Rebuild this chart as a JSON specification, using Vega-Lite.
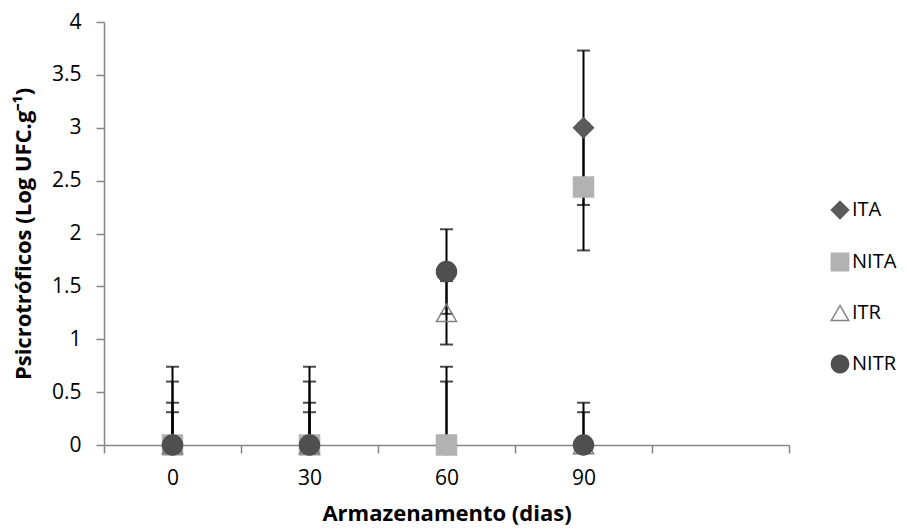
{
  "$schema": "https://vega.github.io/schema/vega-lite/v6.json",
  "width": 685,
  "height": 423,
  "autosize": "none",
  "padding": {"left": 104, "top": 22, "right": 118, "bottom": 85},
  "background": "white",
  "config": {
    "view": {"stroke": null},
    "font": "Open Sans",
    "axis": {"grid": false, "domainColor": "#868686", "domainWidth": 1.5, "tickColor": "#868686", "tickWidth": 1.5, "labelColor": "#000000", "labelFont": "Open Sans", "labelFontSize": 21, "titleFont": "Open Sans", "titleFontSize": 22, "titleFontWeight": "bold", "titleColor": "#000000"}
  },
  "data": {
    "values": [
      {"dia": 0, "serie": "ITA", "valor": 0, "lo": -0.74, "hi": 0.74},
      {"dia": 0, "serie": "NITA", "valor": 0, "lo": -0.6, "hi": 0.6},
      {"dia": 0, "serie": "ITR", "valor": 0, "lo": -0.31, "hi": 0.31},
      {"dia": 0, "serie": "NITR", "valor": 0, "lo": -0.4, "hi": 0.4},
      {"dia": 30, "serie": "ITA", "valor": 0, "lo": -0.74, "hi": 0.74},
      {"dia": 30, "serie": "NITA", "valor": 0, "lo": -0.6, "hi": 0.6},
      {"dia": 30, "serie": "ITR", "valor": 0, "lo": -0.31, "hi": 0.31},
      {"dia": 30, "serie": "NITR", "valor": 0, "lo": -0.4, "hi": 0.4},
      {"dia": 60, "serie": "ITA", "valor": 0, "lo": -0.74, "hi": 0.74},
      {"dia": 60, "serie": "NITA", "valor": 0, "lo": -0.6, "hi": 0.6},
      {"dia": 60, "serie": "ITR", "valor": 1.25, "lo": 0.95, "hi": 1.55},
      {"dia": 60, "serie": "NITR", "valor": 1.64, "lo": 1.24, "hi": 2.04},
      {"dia": 90, "serie": "ITA", "valor": 3.0, "lo": 2.27, "hi": 3.73},
      {"dia": 90, "serie": "NITA", "valor": 2.44, "lo": 1.84, "hi": 3.04},
      {"dia": 90, "serie": "ITR", "valor": 0, "lo": -0.31, "hi": 0.31},
      {"dia": 90, "serie": "NITR", "valor": 0, "lo": -0.4, "hi": 0.4}
    ]
  },
  "encoding": {
    "x": {
      "field": "dia", "type": "quantitative",
      "scale": {"domain": [-15, 135], "nice": false, "zero": false},
      "axis": {
        "title": "Armazenamento (dias)",
        "values": [-15, 0, 15, 30, 45, 60, 75, 90, 105, 135],
        "labelExpr": "datum.value % 30 == 0 && datum.value >= 0 && datum.value <= 90 ? datum.label : ''",
        "tickSize": 8,
        "tickOpacity": {"condition": {"test": "datum.value % 30 == 0", "value": 0}, "value": 1},
        "labelPadding": 14,
        "labelFlush": false,
        "labelOverlap": false,
        "titlePadding": 15
      }
    },
    "y": {
      "type": "quantitative",
      "scale": {"domain": [0, 4], "nice": false},
      "axis": {
        "title": "Psicrotróficos (Log UFC.g⁻¹)",
        "values": [0, 0.5, 1, 1.5, 2, 2.5, 3, 3.5, 4],
        "format": "~f",
        "tickSize": 8,
        "labelPadding": 15,
        "titlePadding": 16
      }
    }
  },
  "layer": [
    {
      "mark": {"type": "rule", "color": "#000000", "strokeWidth": 2, "clip": true},
      "encoding": {"y": {"field": "lo", "type": "quantitative"}, "y2": {"field": "hi"}}
    },
    {
      "mark": {"type": "tick", "orient": "horizontal", "color": "#000000", "thickness": 2, "size": 13, "clip": true},
      "encoding": {"y": {"field": "hi", "type": "quantitative"}}
    },
    {
      "mark": {"type": "tick", "orient": "horizontal", "color": "#000000", "thickness": 2, "size": 13, "clip": true},
      "encoding": {"y": {"field": "lo", "type": "quantitative"}}
    },
    {
      "mark": {"type": "point", "filled": false, "opacity": 1, "strokeWidth": 1.5},
      "encoding": {
        "y": {"field": "valor", "type": "quantitative"},
        "shape": {"field": "serie", "type": "nominal", "scale": {"domain": ["ITA", "NITA", "ITR", "NITR"], "range": ["diamond", "square", "triangle-up", "circle"]},
          "legend": {"title": null, "orient": "none", "legendX": 726, "legendY": 178, "rowPadding": 28, "labelFontSize": 20, "labelFont": "Open Sans", "labelColor": "#000000", "symbolSize": 300, "labelOffset": 2, "symbolStrokeWidth": 1.5}},
        "fill": {"field": "serie", "type": "nominal", "scale": {"domain": ["ITA", "NITA", "ITR", "NITR"], "range": ["#5b5b5b", "#b2b2b2", "transparent", "#4f4f4f"]},
          "legend": {"title": null, "orient": "none", "legendX": 726, "legendY": 178, "rowPadding": 28, "labelFontSize": 20, "labelFont": "Open Sans", "labelColor": "#000000", "symbolSize": 300, "labelOffset": 2, "symbolStrokeWidth": 1.5}},
        "stroke": {"field": "serie", "type": "nominal", "scale": {"domain": ["ITA", "NITA", "ITR", "NITR"], "range": ["#5b5b5b", "#b2b2b2", "#808080", "#4f4f4f"]},
          "legend": {"title": null, "orient": "none", "legendX": 726, "legendY": 178, "rowPadding": 28, "labelFontSize": 20, "labelFont": "Open Sans", "labelColor": "#000000", "symbolSize": 300, "labelOffset": 2, "symbolStrokeWidth": 1.5}},
        "size": {"value": 400}
      }
    }
  ]
}
